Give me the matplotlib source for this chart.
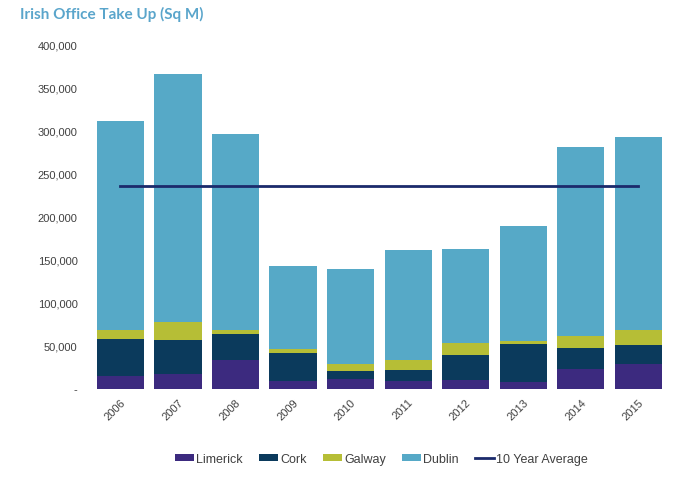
import matplotlib
matplotlib.use("Agg")
import matplotlib.pyplot as plt
import numpy as np

years = ["2006", "2007", "2008", "2009", "2010", "2011", "2012", "2013", "2014", "2015"]
limerick = [15000, 17000, 33500, 9000, 11000, 9000, 10000, 7000, 22500, 28500]
cork = [42500, 39500, 30000, 32500, 9500, 13000, 29000, 44500, 25000, 22000]
galway = [10500, 21000, 5000, 4500, 8500, 11500, 13500, 4000, 14000, 17500]
dublin = [243000, 288000, 227500, 96500, 110000, 127500, 109000, 133500, 219500, 224000]
ten_year_avg = 235000
yticks = [0, 50000, 100000, 150000, 200000, 250000, 300000, 350000, 400000]
ytick_labels = ["-", "50,000", "100,000", "150,000", "200,000", "250,000", "300,000", "350,000", "400,000"]

plt.rcParams['font.family'] = ['Liberation Sans', 'DejaVu Sans']

fig = plt.figure(figsize=(7.0, 4.81), dpi=100)
ax = fig.add_axes([0.1226, 0.1902, 0.9614 - 0.1226, 0.9064 - 0.1902])

x = np.arange(len(years))
w = 0.82
c_lim, c_cork, c_gal, c_dub = "#3c2a7f", "#0b3a5c", "#b6be36", "#56a9c7"
bottom = np.zeros(len(years))
handles = []
for vals, col, lab in [(limerick, c_lim, "Limerick"), (cork, c_cork, "Cork"),
                       (galway, c_gal, "Galway"), (dublin, c_dub, "Dublin")]:
    h = ax.bar(x, vals, w, bottom=bottom, color=col, label=lab, linewidth=0)
    handles.append(h)
    bottom += np.array(vals)

ln, = ax.plot(x, [ten_year_avg] * len(years), color="#1b2a6b", lw=2, label="10 Year Average")
handles.append(ln)

ax.set_xlim(-0.6, 9.6)
ax.set_ylim(0, 400000)
ax.set_yticks(yticks)
ax.set_yticklabels(ytick_labels)
ax.set_xticks(x)
ax.set_xticklabels(years, rotation=45, ha="right", va="top", rotation_mode="anchor")
for s in ax.spines.values():
    s.set_visible(False)
ax.tick_params(axis="both", length=0, labelsize=8, colors="#404040")
ax.tick_params(axis="y", pad=6)
ax.tick_params(axis="x", pad=6)

fig.text(0.029, 0.97, "Irish Office Take Up (Sq M)", color="#5aa5cb", fontsize=11,
         fontweight="bold", family=["Lato", "DejaVu Sans"], ha="left", va="center")

fig.legend(handles=handles, labels=[h.get_label() for h in handles],
           loc="center", bbox_to_anchor=(0.545, 0.044), ncol=5, frameon=False,
           fontsize=9, handlelength=1.5, handleheight=0.45, handletextpad=0.2,
           columnspacing=1.3, labelcolor="#404040")

fig.savefig("out.png", dpi=100)
